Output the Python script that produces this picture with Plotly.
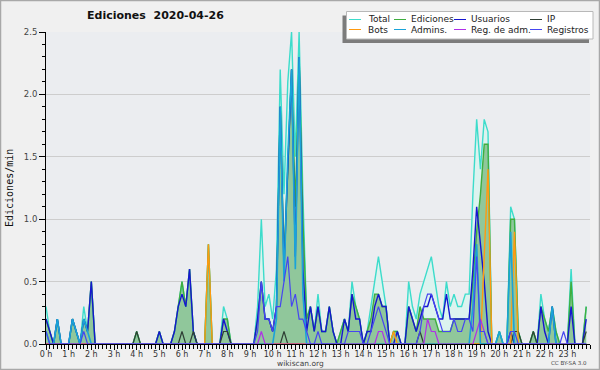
import plotly.graph_objects as go

# ---------------- data (10-minute bins, edits per minute) ----------------
hour_labels = [f"{h} h" for h in range(24)]
bins = list(range(144))

total = [
    0.3, 0.1, 0, 0.2, 0, 0,        # 0 h
    0, 0.2, 0.1, 0, 0.3, 0.1,      # 1 h
    0.5, 0, 0, 0, 0, 0,            # 2 h
    0, 0, 0, 0, 0, 0,              # 3 h
    0.1, 0, 0, 0, 0, 0,            # 4 h
    0.1, 0, 0, 0, 0.1, 0.3,        # 5 h
    0.5, 0.3, 0.6, 0.1, 0, 0,      # 6 h
    0, 0.8, 0, 0, 0, 0.3,          # 7 h
    0.2, 0, 0, 0, 0, 0,            # 8 h
    0, 0, 0.3, 1.0, 0.3, 0.4,      # 9 h
    0.2, 0.6, 2.2, 1.2, 2.1, 2.5,  # 10 h
    1.5, 2.5, 1.2, 0.2, 0.3, 0.1,  # 11 h
    0.4, 0.1, 0.1, 0.3, 0.1, 0,    # 12 h
    0.1, 0.2, 0.1, 0.5, 0.3, 0.2,  # 13 h
    0, 0.1, 0.3, 0.5, 0.7, 0.5,    # 14 h
    0.3, 0, 0.1, 0.1, 0, 0,        # 15 h
    0.5, 0.3, 0.2, 0.4, 0.5, 0.6,  # 16 h
    0.7, 0.5, 0.3, 0.2, 0.5, 0.3,  # 17 h
    0.4, 0.3, 0.3, 0.4, 0.4, 1.2,  # 18 h
    1.8, 1.4, 1.8, 1.7, 0, 0,      # 19 h
    0.1, 0, 0, 1.1, 1.0, 0.1,      # 20 h
    0, 0, 0, 0.1, 0, 0.4,          # 21 h
    0.2, 0.1, 0.3, 0.1, 0, 0,      # 22 h
    0, 0.6, 0, 0, 0, 0.3,          # 23 h
]

ediciones = [
    0.2, 0.1, 0, 0.2, 0, 0,
    0, 0.2, 0.1, 0, 0.2, 0.1,
    0.5, 0, 0, 0, 0, 0,
    0, 0, 0, 0, 0, 0,
    0.1, 0, 0, 0, 0, 0,
    0.1, 0, 0, 0, 0.1, 0.3,
    0.5, 0.3, 0.6, 0.1, 0, 0,
    0, 0.8, 0, 0, 0, 0.2,
    0.2, 0, 0, 0, 0, 0,
    0, 0, 0.2, 0.5, 0.2, 0.2,
    0.1, 0.3, 1.9, 0.7, 1.4, 2.2,
    1.1, 2.3, 1.0, 0.2, 0.3, 0.1,
    0.3, 0.1, 0.1, 0.3, 0.1, 0,
    0.1, 0.2, 0.1, 0.4, 0.3, 0.2,
    0, 0.1, 0.2, 0.4, 0.4, 0.3,
    0.3, 0, 0.1, 0.1, 0, 0,
    0.3, 0.2, 0.1, 0.3, 0.2, 0.2,
    0.2, 0.2, 0.1, 0.1, 0.1, 0.1,
    0.2, 0.2, 0.2, 0.2, 0.2, 0.5,
    0.9, 1.2, 1.6, 1.6, 0, 0,
    0.1, 0, 0, 1.0, 1.0, 0.1,
    0, 0, 0, 0.1, 0, 0.3,
    0.2, 0.1, 0.3, 0.1, 0, 0,
    0, 0.5, 0, 0, 0, 0.3,
]

usuarios = [
    0.2, 0.1, 0, 0.2, 0, 0,
    0, 0.2, 0.1, 0, 0.2, 0.1,
    0.5, 0, 0, 0, 0, 0,
    0, 0, 0, 0, 0, 0,
    0, 0, 0, 0, 0, 0,
    0.1, 0, 0, 0, 0.1, 0.3,
    0.4, 0.3, 0.6, 0.1, 0, 0,
    0, 0, 0, 0, 0, 0.2,
    0.1, 0, 0, 0, 0, 0,
    0, 0, 0.2, 0.5, 0.2, 0.2,
    0.1, 0.3, 1.9, 0.6, 1.4, 2.2,
    0.7, 2.3, 0.6, 0.1, 0.3, 0.1,
    0.3, 0.1, 0.1, 0.3, 0.1, 0,
    0, 0.2, 0.1, 0.4, 0.2, 0.2,
    0, 0.1, 0.1, 0.3, 0.4, 0.3,
    0.3, 0, 0, 0.1, 0, 0,
    0.3, 0.2, 0.1, 0.2, 0.3, 0.3,
    0.4, 0.3, 0.2, 0.2, 0.4, 0.2,
    0.2, 0.2, 0.2, 0.2, 0.2, 0.6,
    1.1, 0.8, 0.5, 0.1, 0, 0,
    0, 0, 0, 0.1, 0, 0,
    0, 0, 0, 0, 0, 0.3,
    0.1, 0, 0.3, 0, 0, 0,
    0, 0.3, 0, 0, 0, 0.2,
]

ip = [
    0, 0, 0, 0, 0, 0,
    0, 0, 0, 0, 0, 0,
    0, 0, 0, 0, 0, 0,
    0, 0, 0, 0, 0, 0,
    0.1, 0, 0, 0, 0, 0,
    0, 0, 0, 0, 0, 0,
    0.1, 0, 0, 0.1, 0, 0,
    0, 0, 0, 0, 0, 0.1,
    0.1, 0, 0, 0, 0, 0,
    0, 0, 0, 0, 0, 0,
    0, 0, 0, 0.1, 0, 0,
    0, 0, 0, 0, 0, 0,
    0, 0, 0, 0, 0, 0,
    0, 0, 0, 0, 0, 0,
    0, 0, 0, 0, 0, 0,
    0, 0, 0, 0, 0, 0,
    0, 0, 0, 0.1, 0, 0,
    0, 0, 0, 0, 0, 0,
    0, 0, 0, 0, 0, 0,
    0, 0, 0, 0, 0, 0,
    0, 0, 0, 0, 0.1, 0.1,
    0, 0, 0, 0.1, 0, 0,
    0, 0, 0, 0, 0, 0,
    0, 0, 0, 0, 0, 0.1,
]

bots = [
    0, 0, 0, 0, 0, 0,
    0, 0, 0, 0, 0, 0,
    0, 0, 0, 0, 0, 0,
    0, 0, 0, 0, 0, 0,
    0, 0, 0, 0, 0, 0,
    0, 0, 0, 0, 0, 0,
    0, 0, 0, 0, 0, 0,
    0, 0.8, 0, 0, 0, 0,
    0, 0, 0, 0, 0, 0,
    0, 0, 0, 0, 0, 0,
    0, 0, 0, 0, 0, 0,
    0, 0, 0, 0, 0, 0,
    0, 0, 0, 0, 0, 0,
    0, 0, 0, 0, 0, 0,
    0, 0, 0, 0, 0, 0,
    0, 0, 0.1, 0, 0, 0,
    0, 0, 0, 0, 0, 0,
    0, 0, 0, 0, 0, 0,
    0, 0, 0, 0, 0, 0,
    0, 0, 0.7, 1.4, 0, 0,
    0, 0, 0, 0, 0.9, 0,
    0, 0, 0, 0, 0, 0,
    0, 0, 0, 0, 0, 0,
    0, 0, 0, 0, 0, 0,
]

admins = [
    0.1, 0, 0, 0.2, 0, 0,
    0, 0.2, 0.1, 0, 0.2, 0.1,
    0, 0, 0, 0, 0, 0,
    0, 0, 0, 0, 0, 0,
    0, 0, 0, 0, 0, 0,
    0, 0, 0, 0, 0, 0,
    0, 0, 0, 0, 0, 0,
    0, 0, 0, 0, 0, 0,
    0, 0, 0, 0, 0, 0,
    0, 0, 0, 0, 0, 0,
    0, 0.2, 1.9, 0.5, 1.5, 2.2,
    0.6, 2.3, 0.4, 0, 0, 0,
    0, 0, 0, 0, 0, 0,
    0, 0, 0, 0, 0, 0,
    0, 0, 0, 0, 0, 0,
    0, 0, 0, 0, 0, 0,
    0, 0, 0, 0, 0, 0,
    0, 0, 0, 0, 0, 0,
    0, 0, 0, 0, 0, 0.3,
    0.8, 0, 0, 0, 0, 0,
    0.1, 0, 0, 0.9, 0, 0,
    0, 0, 0, 0, 0, 0,
    0, 0, 0.3, 0, 0, 0,
    0, 0, 0, 0, 0, 0,
]

reg_adm = [
    0, 0, 0, 0, 0, 0,
    0, 0, 0, 0, 0, 0,
    0, 0, 0, 0, 0, 0,
    0, 0, 0, 0, 0, 0,
    0, 0, 0, 0, 0, 0,
    0, 0, 0, 0, 0, 0,
    0, 0, 0, 0, 0, 0,
    0, 0, 0, 0, 0, 0,
    0, 0, 0, 0, 0, 0,
    0, 0, 0, 0.1, 0, 0,
    0, 0, 0, 0, 0, 0,
    0, 0, 0, 0, 0, 0,
    0, 0, 0, 0, 0, 0,
    0, 0, 0, 0, 0, 0,
    0, 0, 0, 0, 0.1, 0.1,
    0, 0, 0, 0, 0, 0,
    0, 0, 0, 0, 0, 0.2,
    0.1, 0.1, 0, 0, 0, 0,
    0, 0, 0, 0, 0, 0,
    0.1, 0.2, 0.1, 0, 0, 0,
    0, 0, 0, 0, 0, 0,
    0, 0, 0, 0, 0, 0,
    0, 0, 0, 0, 0, 0,
    0, 0, 0, 0, 0, 0,
]

registros = [
    0.1, 0, 0, 0, 0, 0,
    0, 0, 0, 0, 0.1, 0,
    0, 0, 0, 0, 0, 0,
    0, 0, 0, 0, 0, 0,
    0, 0, 0, 0, 0, 0,
    0, 0, 0, 0, 0, 0,
    0, 0, 0, 0, 0, 0,
    0, 0, 0, 0, 0, 0,
    0, 0, 0, 0, 0, 0,
    0, 0, 0.1, 0.5, 0.2, 0.2,
    0.1, 0.3, 0.3, 0.5, 0.7, 0.3,
    0.4, 0.2, 0.2, 0.1, 0, 0,
    0.1, 0, 0, 0, 0, 0,
    0, 0, 0.1, 0.1, 0.1, 0.1,
    0, 0, 0.1, 0.2, 0.3, 0.2,
    0.1, 0, 0, 0, 0, 0,
    0, 0, 0, 0.1, 0.3, 0.4,
    0.4, 0.3, 0.2, 0.1, 0.1, 0.1,
    0.2, 0.1, 0.1, 0.2, 0.2, 0.1,
    0.7, 0.1, 0.1, 0, 0, 0,
    0, 0, 0, 0.1, 0.1, 0,
    0, 0, 0, 0, 0, 0,
    0, 0, 0, 0, 0, 0.1,
    0, 0, 0, 0, 0, 0,
]

series_names = ["Total", "Ediciones", "Usuarios", "IP", "Bots", "Admins.", "Reg. de adm.", "Registros"]

# ---------------- styling ----------------
C_TOTAL = "#3cdccb"
C_EDIT = "#3fae3f"
C_USER = "#1616d0"
C_IP = "#2f3f35"
C_BOT = "#ff9a10"
C_ADMIN = "#1aa3d9"
C_REGADM = "#b030e8"
C_REG = "#4646f0"

FONT = "DejaVu Sans"
W, H = 600, 370
L, R, T, B = 46, 590, 32, 344


def px(x):
    return (x - L) / (R - L)


def py(y):
    return (B - y) / (B - T)


fig = go.Figure()

# fills
fig.add_trace(go.Scatter(x=bins, y=total, mode="lines", fill="tozeroy",
                         fillcolor="#dcf3ef", line=dict(width=0, color=C_TOTAL),
                         hoverinfo="skip", showlegend=False))
fig.add_trace(go.Scatter(x=bins, y=ediciones, mode="lines", fill="tozeroy",
                         fillcolor="#90c79b", line=dict(width=0, color=C_EDIT),
                         hoverinfo="skip", showlegend=False))

# lines
series = [
    (total, C_TOTAL, 1.4),
    (ediciones, C_EDIT, 1.4),
    (usuarios, C_USER, 1.4),
    (ip, C_IP, 1.2),
    (bots, C_BOT, 1.4),
    (admins, C_ADMIN, 1.6),
    (reg_adm, C_REGADM, 1.2),
    (registros, C_REG, 1.2),
]
colors = [s[1] for s in series]
for (vals, col, w), name in zip(series, series_names):
    fig.add_trace(go.Scatter(x=bins, y=vals, mode="lines", name=name,
                             line=dict(color=col, width=w), showlegend=False))

shapes = []
annotations = []

# outer border
shapes.append(dict(type="rect", xref="paper", yref="paper",
                   x0=px(0.5), x1=px(W - 0.5), y0=py(H - 0.5), y1=py(0.5),
                   line=dict(color="#a8a8a8", width=1.5), layer="above"))

# legend box with shadow
lx0, lx1, ly0, ly1 = 346.5, 593, 11.5, 39
shapes.append(dict(type="rect", xref="paper", yref="paper",
                   x0=px(lx0 - 4), x1=px(lx1 - 4), y0=py(ly1 + 4), y1=py(ly0 + 4),
                   fillcolor="#7c7c7c", line=dict(width=0), layer="above"))
shapes.append(dict(type="rect", xref="paper", yref="paper",
                   x0=px(lx0), x1=px(lx1), y0=py(ly1), y1=py(ly0),
                   fillcolor="#ffffff", line=dict(color="#b8b8b8", width=1), layer="above"))

col_line_x = [349, 394, 454, 530]
col_text_x = [366, 409, 469, 545]
row_y = [19.5, 29.5]
for k, name in enumerate(series_names):
    r, c = divmod(k, 4)
    yy = row_y[r]
    shapes.append(dict(type="line", xref="paper", yref="paper",
                       x0=px(col_line_x[c]), x1=px(col_line_x[c] + 12),
                       y0=py(yy), y1=py(yy),
                       line=dict(color=colors[k], width=1), layer="above"))
    annotations.append(dict(text=name, xref="paper", yref="paper",
                            x=px(col_text_x[c]), y=py(yy), xanchor="left", yanchor="middle",
                            showarrow=False, font=dict(family=FONT, size=9, color="#222")))

# title
annotations.append(dict(text="Ediciones\u00a0 2020-04-26", xref="paper", yref="paper",
                        x=px(85), y=py(16), xanchor="left", yanchor="middle", showarrow=False,
                        font=dict(family=FONT, size=11, color="#111", weight="bold")))
# y title
annotations.append(dict(text="Ediciones/min", xref="paper", yref="paper",
                        x=px(9), y=py(188), xanchor="center", yanchor="middle", textangle=-90,
                        showarrow=False, font=dict(family="DejaVu Sans Mono", size=10, color="#111")))
# footer
annotations.append(dict(text="wikiscan.org", xref="paper", yref="paper",
                        x=px(300), y=py(363), xanchor="center", yanchor="middle", showarrow=False,
                        font=dict(family=FONT, size=7.5, color="#444")))
annotations.append(dict(text="CC BY-SA 3.0", xref="paper", yref="paper",
                        x=px(589), y=py(363), xanchor="right", yanchor="middle", showarrow=False,
                        font=dict(family=FONT, size=5.5, color="#444")))

fig.update_layout(
    width=W, height=H,
    margin=dict(l=L, r=W - R, t=T, b=H - B, pad=0),
    paper_bgcolor="#f0f0f0",
    plot_bgcolor="#ebedf0",
    showlegend=False,
    shapes=shapes,
    annotations=annotations,
    font=dict(family=FONT, size=8, color="#333"),
    xaxis=dict(range=[0, 144], tickmode="array", tickvals=list(range(0, 144, 6)),
               ticktext=hour_labels, ticks="outside", ticklen=5, tickwidth=1, tickcolor="#000",
               showline=True, linecolor="#000", linewidth=1, showgrid=False, zeroline=False,
               tickfont=dict(family=FONT, size=8, color="#333"), ticklabelstandoff=-3,
               minor=dict(tickmode="linear", tick0=0, dtick=1, ticks="outside", ticklen=4,
                          tickcolor="#000", tickwidth=1, showgrid=False),
               fixedrange=True),
    yaxis=dict(range=[0, 2.5], tick0=0, dtick=0.5, tickformat=".1f", ticks="outside",
               ticklen=6, tickwidth=1, tickcolor="#000", showline=True, linecolor="#000",
               linewidth=1, showgrid=True, gridcolor="#cdcdcd", gridwidth=1, zeroline=False,
               tickfont=dict(family=FONT, size=8.5, color="#444"),
               minor=dict(tick0=0, dtick=0.1, ticks="outside", ticklen=3, tickcolor="#000",
                          tickwidth=1, showgrid=False),
               fixedrange=True),
)

fig.write_html(
    "out.html",
    config={"displayModeBar": False},
    post_script="document.body.style.margin='0';document.body.style.overflow='hidden';",
)
